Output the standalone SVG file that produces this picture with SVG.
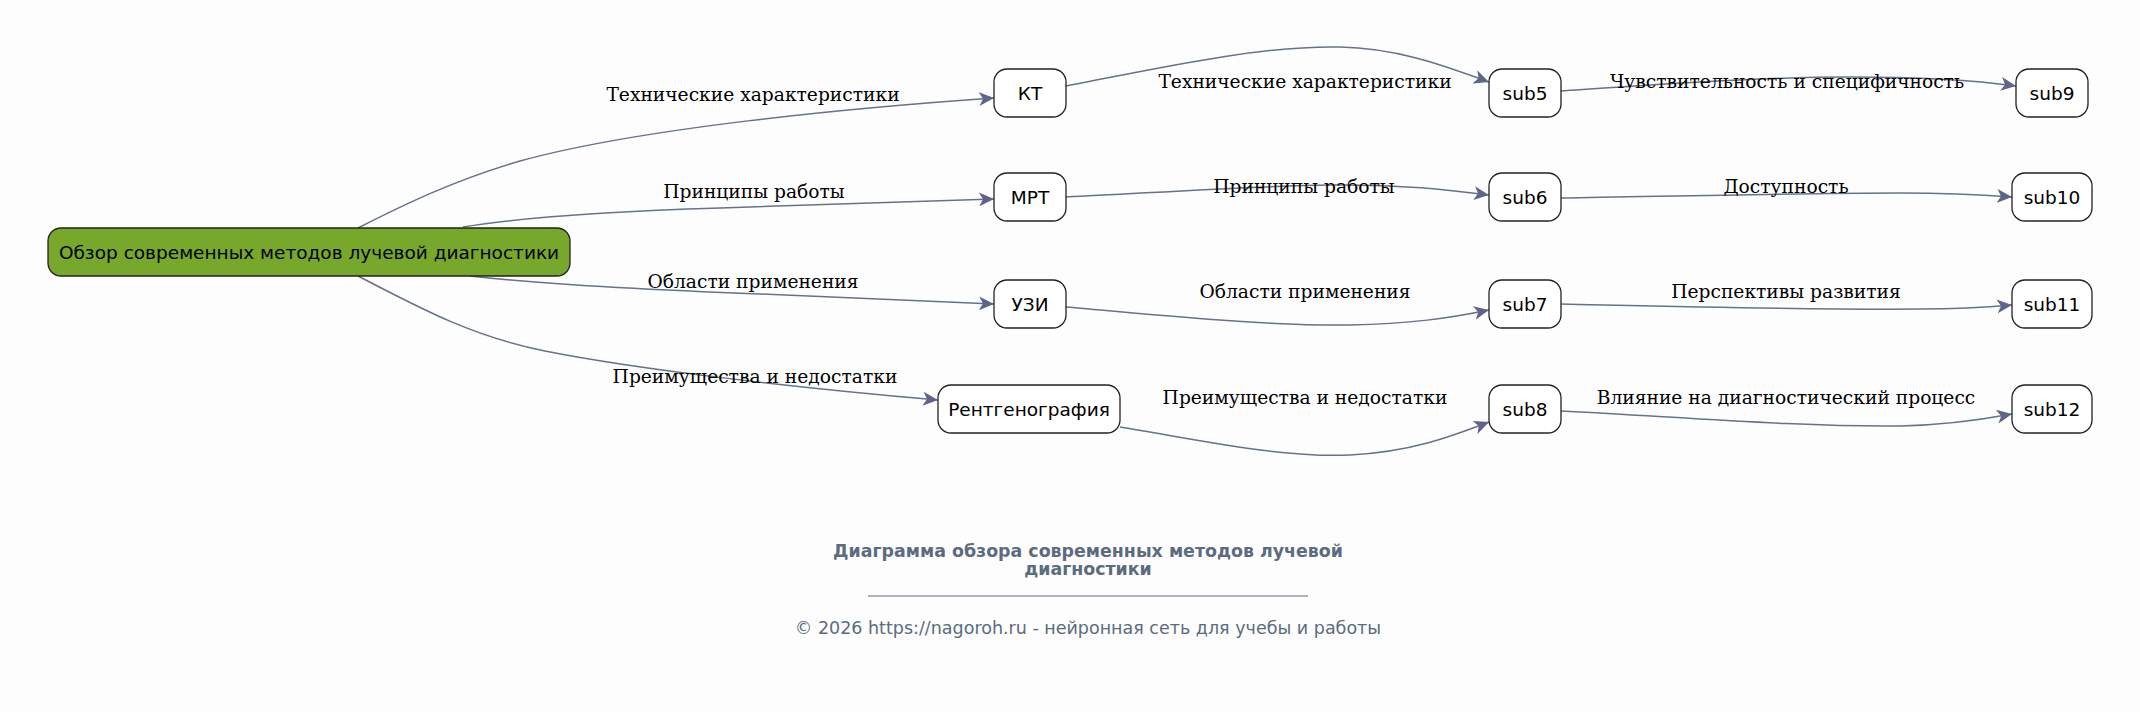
<svg xmlns="http://www.w3.org/2000/svg" width="2140" height="712" viewBox="0 0 2140 712">
<defs>
<marker id="arr" markerUnits="userSpaceOnUse" markerWidth="16" markerHeight="14" refX="15" refY="7" orient="auto">
<path d="M0,0 L15,7 L0,14 L4,7 Z" fill="#5e6588"/>
</marker>
<style>
.node rect{fill:#ffffff;stroke:#222;stroke-width:1.3}
.node text{font-family:"DejaVu Sans",sans-serif;font-size:18.5px;fill:#000;text-anchor:middle}
#root rect{fill:#77a72b}
.edges path{fill:none;stroke:#65728a;stroke-width:1.5;marker-end:url(#arr)}
.lbl{font-family:"DejaVu Serif",serif;font-size:18.67px;fill:#000;text-anchor:middle}
.foot{font-family:"DejaVu Sans",sans-serif;fill:#5b6b80;text-anchor:middle}
</style>
</defs>
<rect width="2140" height="712" fill="#fdfdfd"/>
<g class="edges" id="edges">
<path d="M358,228 C405,204 455,180 520,161 C640,128 850,108 994,98"/>
<path d="M463,227 C530,216 620,211 720,208 C820,205 920,201 994,199"/>
<path d="M470,276 C540,284 650,290 760,294 C860,298 940,302 994,304"/>
<path d="M358,276 C425,311 475,337 545,351 C640,370 800,388 938,400"/>
<path d="M1066,86 C1150,70 1260,45 1340,47 C1400,48 1450,68 1489,82"/>
<path d="M1066,197 C1150,193 1250,186 1330,185 C1400,184 1450,190 1489,195"/>
<path d="M1066,307 C1150,314 1260,326 1350,325 C1410,324 1450,318 1489,310"/>
<path d="M1120,427 C1200,440 1280,458 1350,455 C1410,452 1450,437 1489,422"/>
<path d="M1561,91 C1650,85 1760,77 1850,77 C1930,77 1980,81 2016,86"/>
<path d="M1561,198 C1680,196 1800,193 1900,193 C1950,193 1985,195 2012,197"/>
<path d="M1561,304 C1700,307 1820,310 1920,309 C1960,309 1990,307 2012,305"/>
<path d="M1561,411 C1680,417 1800,427 1900,426 C1950,425 1985,419 2012,414"/>
</g>
<g id="edge-labels">
<text class="lbl" x="753" y="101">Технические характеристики</text>
<text class="lbl" x="754" y="198">Принципы работы</text>
<text class="lbl" x="753" y="288">Области применения</text>
<text class="lbl" x="755" y="383">Преимущества и недостатки</text>
<text class="lbl" x="1305" y="88">Технические характеристики</text>
<text class="lbl" x="1304" y="193">Принципы работы</text>
<text class="lbl" x="1305" y="298">Области применения</text>
<text class="lbl" x="1305" y="404">Преимущества и недостатки</text>
<text class="lbl" x="1787" y="88">Чувствительность и специфичность</text>
<text class="lbl" x="1786" y="193">Доступность</text>
<text class="lbl" x="1786" y="298">Перспективы развития</text>
<text class="lbl" x="1786" y="404">Влияние на диагностический процесс</text>
</g>
<g class="node" id="root"><rect x="48" y="228" width="522" height="48" rx="13"/><text x="309" y="258.5">Обзор современных методов лучевой диагностики</text></g>
<g class="node" id="kt"><rect x="994" y="69" width="72" height="48" rx="13"/><text x="1030" y="99.5">КТ</text></g>
<g class="node" id="mrt"><rect x="994" y="173" width="72" height="48" rx="13"/><text x="1030" y="203.5">МРТ</text></g>
<g class="node" id="uzi"><rect x="994" y="280" width="72" height="48" rx="13"/><text x="1030" y="310.5">УЗИ</text></g>
<g class="node" id="rentgen"><rect x="938" y="385" width="182" height="48" rx="13"/><text x="1029" y="415.5">Рентгенография</text></g>
<g class="node" id="sub5"><rect x="1489" y="69" width="72" height="48" rx="13"/><text x="1525" y="99.5">sub5</text></g>
<g class="node" id="sub6"><rect x="1489" y="173" width="72" height="48" rx="13"/><text x="1525" y="203.5">sub6</text></g>
<g class="node" id="sub7"><rect x="1489" y="280" width="72" height="48" rx="13"/><text x="1525" y="310.5">sub7</text></g>
<g class="node" id="sub8"><rect x="1489" y="385" width="72" height="48" rx="13"/><text x="1525" y="415.5">sub8</text></g>
<g class="node" id="sub9"><rect x="2016" y="69" width="72" height="48" rx="13"/><text x="2052" y="99.5">sub9</text></g>
<g class="node" id="sub10"><rect x="2012" y="173" width="80" height="48" rx="13"/><text x="2052" y="203.5">sub10</text></g>
<g class="node" id="sub11"><rect x="2012" y="280" width="80" height="48" rx="13"/><text x="2052" y="310.5">sub11</text></g>
<g class="node" id="sub12"><rect x="2012" y="385" width="80" height="48" rx="13"/><text x="2052" y="415.5">sub12</text></g>
<g id="footer">
<text class="foot" x="1088" y="557" font-size="17.4" font-weight="bold">Диаграмма обзора современных методов лучевой</text>
<text class="foot" x="1088" y="575" font-size="17.4" font-weight="bold">диагностики</text>
<line x1="868" y1="596" x2="1308" y2="596" stroke="#5b6b80" stroke-width="1"/>
<text class="foot" x="1088" y="634" font-size="17.5">© 2026 https://nagoroh.ru - нейронная сеть для учебы и работы</text>
</g>
</svg>
